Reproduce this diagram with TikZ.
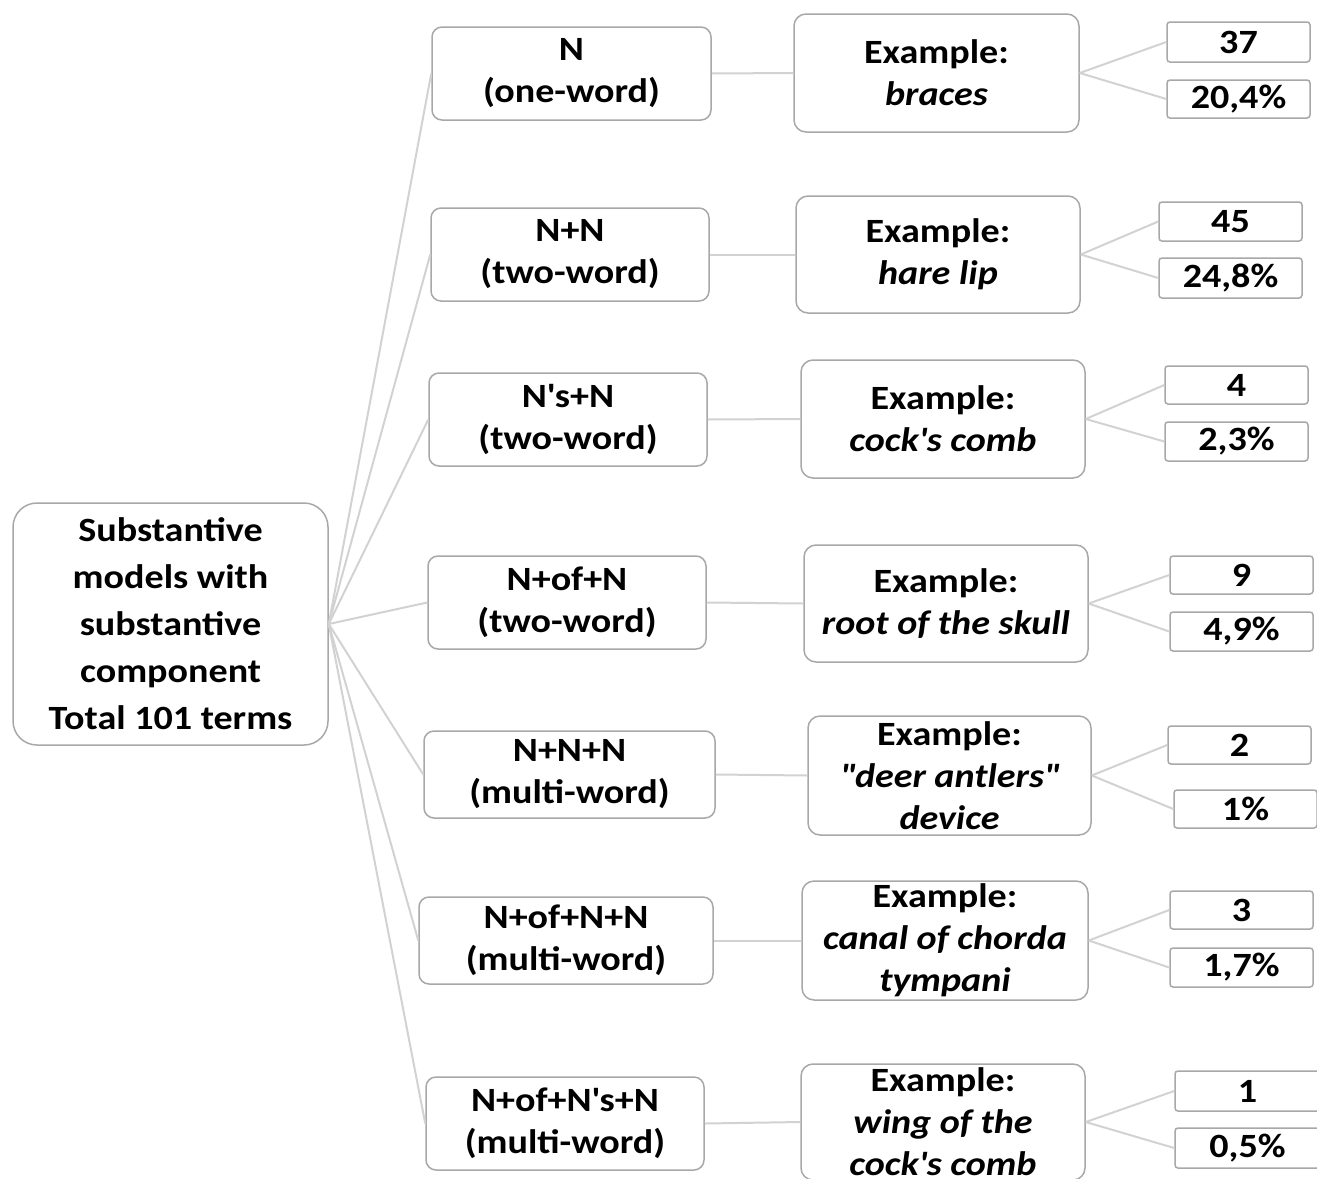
\documentclass[tikz,border=0pt]{standalone}
\usepackage{fontspec}
\setmainfont{Carlito}[FakeStretch=1.12]
\definecolor{bordergray}{HTML}{A8A8A8}
\definecolor{conngray}{HTML}{D2D2D2}
\newcommand\mkbox[7]{%
  \pgfmathsetmacro\mbcx{(#3+#5)/2}\pgfmathsetmacro\mbcy{(#4+#6)/2}%
  \pgfmathsetmacro\mbw{#5-#3}\pgfmathsetmacro\mbh{#6-#4}%
  \node[#1, minimum width=\mbw pt, minimum height=\mbh pt] (#2) at (\mbcx,\mbcy) {#7};}
\begin{document}
\begin{tikzpicture}[x=1pt,y=-1pt,
  base/.style={draw=bordergray, line width=1.5pt, fill=white, align=center, inner sep=0pt,
    font=\bfseries\fontsize{34}{42}\selectfont},
  rootbox/.style={base, rounded corners=24pt, font=\bfseries\fontsize{34}{47}\selectfont},
  modelbox/.style={base, rounded corners=10pt},
  exbox/.style={base, rounded corners=12pt},
  numbox/.style={base, rounded corners=3pt},
  conn/.style={draw=conngray, line width=2pt}]
\useasboundingbox (0,0) rectangle (1317,1178);
\mkbox{rootbox}{root}{13}{503}{328}{745}{Substantive\\models with\\substantive\\component\\Total 101 terms}
% row 1
\mkbox{modelbox}{n1}{432}{27}{711}{120}{N\\(one-word)}
\mkbox{exbox}{e1}{794}{14}{1079}{132}{Example:\\\textit{braces}}
\mkbox{numbox}{t1}{1167}{22}{1310}{62}{37}
\mkbox{numbox}{p1}{1167}{80}{1310}{118}{20,4\%}
% row 2
\mkbox{modelbox}{n2}{431}{208}{709}{301}{N+N\\(two-word)}
\mkbox{exbox}{e2}{796}{196}{1080}{313}{Example:\\\textit{hare lip}}
\mkbox{numbox}{t2}{1159}{202}{1302}{241}{45}
\mkbox{numbox}{p2}{1159}{258}{1302}{298}{24,8\%}
% row 3
\mkbox{modelbox}{n3}{429}{373}{707}{466}{N\textquotesingle s+N\\(two-word)}
\mkbox{exbox}{e3}{801}{360}{1085}{478}{Example:\\\textit{cock\textquotesingle s comb}}
\mkbox{numbox}{t3}{1165}{366}{1308}{404}{4}
\mkbox{numbox}{p3}{1165}{422}{1308}{461}{2,3\%}
% row 4
\mkbox{modelbox}{n4}{428}{556}{706}{649}{N+of+N\\(two-word)}
\mkbox{exbox}{e4}{804}{545}{1088}{662}{Example:\\\textit{root of the skull}}
\mkbox{numbox}{t4}{1170}{556}{1313}{594}{9}
\mkbox{numbox}{p4}{1170}{612}{1313}{651}{4,9\%}
% row 5
\mkbox{modelbox}{n5}{424}{731}{715}{818}{N+N+N\\(multi-word)}
\mkbox{exbox}{e5}{808}{716}{1091}{835}{Example:\\\textit{\textquotedbl deer antlers\textquotedbl}\\\textit{device}}
\mkbox{numbox}{t5}{1168}{726}{1311}{764}{2}
\mkbox{numbox}{p5}{1174}{790}{1317}{828}{1\%}
% row 6
\mkbox{modelbox}{n6}{419}{897}{713}{984}{N+of+N+N\\(multi-word)}
\mkbox{exbox}{e6}{802}{881}{1088}{1000}{Example:\\\textit{canal of chorda}\\\textit{tympani}}
\mkbox{numbox}{t6}{1170}{891}{1313}{929}{3}
\mkbox{numbox}{p6}{1170}{948}{1313}{987}{1,7\%}
% row 7
\mkbox{modelbox}{n7}{426}{1077}{704}{1170}{N+of+N\textquotesingle s+N\\(multi-word)}
\mkbox{exbox}{e7}{801}{1064}{1085}{1180}{Example:\\\textit{wing of the}\\\textit{cock\textquotesingle s comb}}
\mkbox{numbox}{t7}{1175}{1071}{1320}{1111}{1}
\mkbox{numbox}{p7}{1175}{1128}{1320}{1168}{0,5\%}
% connectors
\foreach \i in {1,...,7}{
  \draw[conn] (root.east) -- (n\i.west);
  \draw[conn] (n\i.east) -- (e\i.west);
  \draw[conn] (e\i.east) -- (t\i.west);
  \draw[conn] (e\i.east) -- (p\i.west);
}
\end{tikzpicture}
\end{document}
